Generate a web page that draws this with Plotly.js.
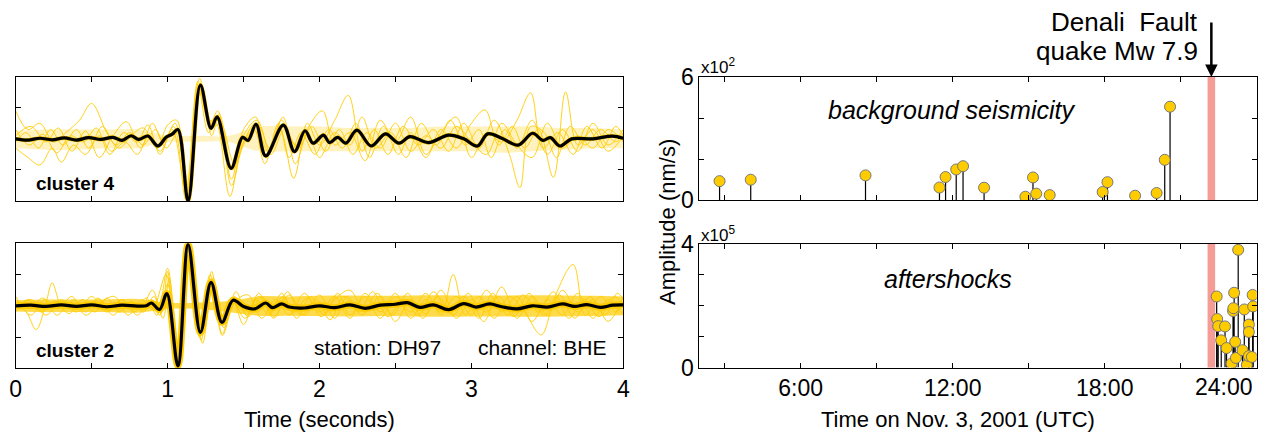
<!DOCTYPE html>
<html><head><meta charset="utf-8">
<script src="https://cdn.plot.ly/plotly-3.0.1.min.js"></script>
<style>html,body{margin:0;padding:0;background:#fff}#chart{width:1266px;height:432px}</style>
</head><body><div id="chart"></div>
<script>
// ---------- Left panels: waveforms (time in s, amplitude normalised) ----------
const c4MeanT = [0,0.08,0.16,0.24,0.32,0.4,0.48,0.56,0.64,0.7,0.76,0.81,0.87,0.936,0.99,1.03,1.068,1.135,1.216,1.286,1.326,1.418,1.493,1.53,1.582,1.646,1.762,1.835,1.905,1.958,2.026,2.066,2.12,2.173,2.246,2.34,2.434,2.523,2.596,2.717,2.851,2.95,3.04,3.107,3.2,3.309,3.403,3.47,3.52,3.583,3.66,3.8,3.927,4.0];
const c4MeanV = [0,-0.04,0.02,-0.03,0.03,-0.04,0.04,-0.02,0.05,-0.05,0.1,-0.02,0.09,-0.23,0.05,0.15,0.3,-2.0,1.73,0.34,0.71,-0.95,0.05,-0.05,0.47,-0.55,0.44,-0.41,0.26,-0.14,0.12,-0.12,0.05,-0.14,0.28,-0.23,0.16,-0.14,0.07,-0.12,0.12,0.0,-0.23,0.16,0.02,-0.2,0.18,-0.05,0.04,-0.23,0.0,0.0,0.09,0.02];

const c2MeanT = [0,0.1,0.2,0.3,0.4,0.5,0.6,0.7,0.8,0.86,0.893,0.947,0.995,1.068,1.135,1.216,1.286,1.358,1.431,1.5,1.574,1.646,1.69,1.75,1.8,1.9,2.0,2.1,2.2,2.3,2.4,2.5,2.58,2.66,2.75,2.85,2.95,3.03,3.12,3.2,3.3,3.4,3.5,3.6,3.68,3.76,3.85,3.93,4.0];
const c2MeanV = [0,0.02,-0.02,0.03,-0.02,0.03,-0.03,0.02,-0.01,0.0,0.09,-0.12,0.39,-1.92,1.96,-0.85,0.75,-0.53,0.18,-0.02,-0.1,0.09,-0.06,0.06,-0.04,-0.07,0.0,-0.06,0.03,-0.08,0.02,0.05,0.1,-0.05,0.03,-0.12,0.07,-0.04,0.06,-0.03,-0.1,0.0,-0.04,0.06,-0.02,0.04,-0.05,0.02,0.03];

// dense yellow band (envelope of the individual events)
const bandT   = [0,0.2,0.4,0.6,0.8,1.0,1.2,1.4,1.6,1.8,2.0,2.2,2.4,2.6,2.8,3.0,3.2,3.4,3.6,3.8,4.0];
const c4BandUp = [0.25,0.3,0.3,0.3,0.3,0.1,0.1,0.1,0.4,0.4,0.4,0.35,0.35,0.35,0.4,0.4,0.4,0.4,0.35,0.35,0.3];
const c4BandLo = [-0.3,-0.35,-0.35,-0.3,-0.3,-0.1,-0.1,-0.1,-0.4,-0.4,-0.4,-0.4,-0.4,-0.4,-0.4,-0.4,-0.45,-0.4,-0.35,-0.3,-0.3];
const c2BandUp = [0.18,0.2,0.2,0.2,0.22,0.1,0.1,0.15,0.3,0.3,0.32,0.33,0.32,0.33,0.34,0.33,0.33,0.34,0.33,0.32,0.3];
const c2BandLo = [-0.18,-0.2,-0.2,-0.2,-0.22,-0.1,-0.1,-0.2,-0.32,-0.32,-0.33,-0.34,-0.33,-0.34,-0.35,-0.34,-0.34,-0.35,-0.34,-0.33,-0.3];

// individual events [t, v]
const c4EventA = [[0,0.9],[0.08,0.3],[0.16,0.5],[0.25,-0.1],[0.33,0.2],[0.42,0.6],[0.5,1.14],[0.6,0.2],[0.68,-0.3],[0.76,0.1],[0.84,0.35],[0.93,-0.3],[1.0,0.45],[1.06,0.6],[1.13,-1.9],[1.21,1.95],[1.28,0.5],[1.33,0.9],[1.42,-1.3],[1.5,0.3],[1.58,0.7],[1.65,-0.6],[1.74,0.3],[1.83,-1.27],[1.92,0.5],[2.0,-0.2],[2.1,0.6],[2.19,1.4],[2.28,-0.4],[2.36,0.3],[2.45,-0.5],[2.55,0.4],[2.65,-0.2],[2.75,0.3],[2.85,-0.4],[2.95,0.5],[3.05,-0.3],[3.15,0.6],[3.25,-0.5],[3.32,-1.57],[3.39,0.4],[3.48,0.2],[3.56,-0.6],[3.65,0.4],[3.75,-0.2],[3.85,0.3],[3.95,-0.1],[4.0,0.2]];
const c4EventB = [[0,-0.3],[0.08,-0.6],[0.16,-0.84],[0.24,-0.3],[0.3,-0.75],[0.38,-0.2],[0.46,-0.5],[0.55,0.1],[0.63,-0.4],[0.72,-0.1],[0.8,-0.5],[0.88,0.1],[0.95,-0.4],[1.04,0.4],[1.12,-1.95],[1.2,1.7],[1.27,0.2],[1.32,0.5],[1.41,-1.85],[1.49,-0.2],[1.57,0.3],[1.64,-0.8],[1.73,0.5],[1.8,-0.6],[1.88,0.2],[1.97,-0.5],[2.06,0.3],[2.15,-0.3],[2.24,0.5],[2.33,-0.6],[2.42,0.4],[2.52,-0.5],[2.6,0.2],[2.7,-0.6],[2.8,0.3],[2.9,-0.3],[3.0,0.5],[3.09,0.93],[3.18,-0.2],[3.27,0.4],[3.35,-0.3],[3.44,0.3],[3.54,-1.24],[3.62,1.51],[3.7,-0.2],[3.8,0.3],[3.9,-0.4],[4.0,0.1]];
const c4EventC = [[0,0.1],[0.1,0.4],[0.2,-0.1],[0.28,0.35],[0.37,-0.4],[0.46,0.25],[0.55,-0.6],[0.64,0.1],[0.73,0.55],[0.82,-0.3],[0.9,0.5],[0.97,-0.1],[1.05,0.5],[1.13,-1.7],[1.22,1.8],[1.29,0.1],[1.34,0.8],[1.43,-1.0],[1.51,0.2],[1.59,0.6],[1.67,-0.3],[1.76,0.7],[1.84,-0.8],[1.93,0.4],[2.02,0.9],[2.1,-0.2],[2.2,0.2],[2.3,-0.7],[2.4,0.6],[2.5,-0.1],[2.6,0.7],[2.7,-0.5],[2.8,0.2],[2.9,0.7],[3.0,-0.6],[3.1,0.2],[3.2,-0.1],[3.3,0.6],[3.39,1.48],[3.47,-0.3],[3.57,0.2],[3.67,-0.5],[3.76,0.4],[3.86,-0.3],[3.95,0.4],[4.0,0.1]];
const c4EventD = [[0,-0.1],[0.07,0.2],[0.15,-0.3],[0.23,0.3],[0.31,-0.2],[0.4,0.3],[0.48,-0.3],[0.57,0.4],[0.66,-0.2],[0.75,0.2],[0.84,-0.2],[0.92,0.3],[0.99,-0.3],[1.07,0.2],[1.14,-1.85],[1.22,1.6],[1.3,0.4],[1.35,0.5],[1.44,-0.8],[1.52,0.0],[1.6,0.4],[1.68,-0.5],[1.77,0.3],[1.86,-0.3],[1.95,0.4],[2.04,-0.4],[2.13,0.3],[2.22,-0.5],[2.31,0.2],[2.4,-0.3],[2.5,0.5],[2.6,-0.4],[2.7,0.1],[2.8,-0.3],[2.9,0.4],[3.0,-0.1],[3.1,-0.5],[3.2,0.5],[3.3,-0.2],[3.4,-0.6],[3.5,0.5],[3.6,-0.3],[3.7,0.1],[3.8,-0.3],[3.9,0.3],[4.0,-0.1]];
const c4EventE = [[0,0.3],[0.09,-0.2],[0.18,0.15],[0.27,-0.45],[0.36,0.1],[0.45,-0.1],[0.53,0.35],[0.62,-0.5],[0.71,0.2],[0.8,-0.1],[0.87,0.45],[0.95,-0.5],[1.03,0.3],[1.12,-1.6],[1.2,1.85],[1.27,0.6],[1.33,0.6],[1.42,-1.5],[1.5,-0.1],[1.58,0.5],[1.66,-0.4],[1.75,0.6],[1.84,-0.2],[1.92,0.2],[2.0,-0.6],[2.1,0.2],[2.2,-0.2],[2.28,0.7],[2.37,-0.3],[2.47,0.2],[2.57,-0.6],[2.67,0.5],[2.77,-0.2],[2.86,0.6],[2.96,-0.2],[3.05,0.3],[3.13,-0.6],[3.22,0.3],[3.3,-0.3],[3.4,0.6],[3.5,-0.5],[3.6,0.3],[3.7,-0.4],[3.8,0.5],[3.9,-0.2],[4.0,0.3]];

const c2EventA = [[0,0.1],[0.07,-0.2],[0.135,-0.76],[0.2,0.1],[0.24,0.73],[0.31,-0.1],[0.38,0.2],[0.46,-0.2],[0.54,0.25],[0.62,-0.15],[0.7,0.2],[0.78,-0.2],[0.86,0.25],[0.93,-0.3],[1.0,1.2],[1.07,-2.0],[1.14,1.9],[1.22,-1.1],[1.29,1.1],[1.36,-0.9],[1.44,0.3],[1.52,-0.3],[1.6,0.4],[1.68,-0.2],[1.76,0.3],[1.85,-0.4],[1.94,0.3],[2.03,-0.3],[2.12,0.4],[2.2,-0.3],[2.3,0.3],[2.4,-0.4],[2.5,0.3],[2.6,-0.2],[2.7,0.4],[2.8,-0.3],[2.88,1.0],[2.96,-0.3],[3.05,0.3],[3.15,-0.4],[3.25,0.3],[3.35,-0.2],[3.46,-0.93],[3.55,0.3],[3.67,1.32],[3.75,-0.3],[3.85,0.3],[3.95,-0.2],[4.0,0.1]];
const c2EventB = [[0,-0.2],[0.08,0.2],[0.17,-0.2],[0.26,0.15],[0.35,-0.25],[0.44,0.2],[0.52,-0.2],[0.6,0.25],[0.68,-0.2],[0.76,0.15],[0.84,-0.2],[0.91,0.3],[0.97,-0.4],[1.01,0.9],[1.08,-1.8],[1.15,1.8],[1.23,-1.2],[1.3,0.9],[1.37,-0.7],[1.45,0.45],[1.53,-0.35],[1.62,0.3],[1.7,-0.35],[1.8,0.35],[1.9,-0.3],[2.0,0.35],[2.1,-0.4],[2.18,0.3],[2.28,-0.3],[2.38,0.4],[2.48,-0.3],[2.58,0.4],[2.68,-0.4],[2.78,0.3],[2.88,-0.3],[2.98,0.4],[3.08,-0.5],[3.18,0.3],[3.28,-0.35],[3.38,0.4],[3.48,-0.3],[3.58,0.35],[3.68,-0.4],[3.78,0.3],[3.88,-0.3],[3.96,0.4],[4.0,0.2]];
const c2EventC = [[0,0.2],[0.09,-0.1],[0.18,0.25],[0.27,-0.3],[0.36,0.1],[0.45,-0.1],[0.55,0.2],[0.64,-0.3],[0.73,0.1],[0.82,-0.1],[0.9,0.5],[0.96,-0.2],[1.0,1.1],[1.06,-1.9],[1.13,2.0],[1.21,-0.7],[1.28,1.0],[1.35,-0.5],[1.43,0.15],[1.5,-0.6],[1.58,0.2],[1.67,-0.3],[1.75,0.4],[1.83,-0.2],[1.92,0.25],[2.01,-0.35],[2.1,0.2],[2.2,0.5],[2.3,-0.2],[2.4,0.3],[2.5,-0.5],[2.6,0.2],[2.7,-0.25],[2.8,0.5],[2.9,-0.4],[3.0,0.2],[3.1,-0.2],[3.2,0.6],[3.3,-0.4],[3.4,0.3],[3.5,-0.3],[3.6,0.5],[3.7,-0.2],[3.8,0.2],[3.9,-0.5],[4.0,0.3]];
const c2EventD = [[0,-0.1],[0.1,0.2],[0.2,-0.3],[0.3,0.2],[0.4,-0.2],[0.5,0.3],[0.6,-0.2],[0.7,0.2],[0.8,-0.3],[0.88,0.1],[0.95,-0.3],[1.0,0.7],[1.07,-1.7],[1.14,1.7],[1.22,-0.8],[1.29,0.6],[1.36,-0.95],[1.44,0.1],[1.53,0.35],[1.62,-0.4],[1.71,0.2],[1.8,-0.3],[1.9,0.4],[2.0,-0.2],[2.1,0.3],[2.2,-0.4],[2.3,0.4],[2.4,-0.2],[2.5,0.4],[2.6,-0.4],[2.7,0.2],[2.8,-0.2],[2.9,0.3],[3.0,-0.3],[3.1,0.5],[3.2,-0.2],[3.3,0.3],[3.4,-0.5],[3.5,0.2],[3.6,-0.3],[3.7,0.4],[3.8,-0.4],[3.9,0.2],[4.0,-0.3]];
const c2EventE = [[0,0.3],[0.1,-0.3],[0.19,0.2],[0.28,-0.1],[0.37,0.3],[0.46,-0.3],[0.56,0.1],[0.65,0.3],[0.74,-0.3],[0.83,0.2],[0.9,-0.1],[0.99,1.0],[1.06,-1.85],[1.13,1.9],[1.21,-1.0],[1.28,0.85],[1.35,-0.6],[1.42,0.2],[1.51,-0.4],[1.6,0.3],[1.7,-0.4],[1.79,0.45],[1.88,-0.3],[1.98,0.2],[2.07,-0.45],[2.16,0.3],[2.26,-0.2],[2.35,0.45],[2.45,-0.35],[2.55,0.2],[2.65,-0.3],[2.75,0.45],[2.85,-0.2],[2.95,0.3],[3.05,-0.4],[3.14,0.4],[3.24,-0.3],[3.34,0.35],[3.44,-0.2],[3.54,0.45],[3.64,-0.4],[3.74,0.2],[3.84,-0.35],[3.94,0.3],[4.0,0.0]];

const secTicks = [0,0.5,1,1.5,2,2.5,3,3.5,4];
const secLabels = ['0','','1','','2','','3','','4'];

// ---------- Right panels: amplitudes (nm/s) vs. hour of Nov. 3 ----------
const bgHours = [2.8,4.03,8.56,11.48,11.72,12.14,12.41,13.24,14.87,15.17,15.3,15.83,17.92,18.11,19.2,20.05,20.37,20.58];
const bgAmp   = [92,99,120,61,112,149,165,60,16,110,31,24,39,87,21,34,196,455];
const asHours = [22.42,22.44,22.48,22.6,22.75,22.81,23.01,23.07,23.08,23.11,23.15,23.18,23.27,23.44,23.51,23.61,23.69,23.69,23.69,23.81,23.84,23.86];
const asAmp   = [230000,157000,134000,88000,133000,63000,13000,183000,192000,242000,83000,31000,381000,56000,188000,8000,139000,115000,37000,34000,235000,198000];
const quakeStart = 22.06, quakeEnd = 22.36;
const hourTicks  = [3,6,9,12,15,18,21,24];
const hourLabels = ['','6:00','','12:00','','18:00','',''];

// ---------- build ----------
const F = 'Liberation Sans, Arial, Helvetica, sans-serif';
const YEL = '#FFCC00';
const W = 1266, H = 432;
const px = v => v / W, py = v => 1 - v / H;

function evTrace(ev, xa, ya){
  return {x: ev.map(p=>p[0]), y: ev.map(p=>p[1]), xaxis: xa, yaxis: ya, mode:'lines',
    line:{color:YEL, width:0.9, shape:'spline'}, hoverinfo:'skip', showlegend:false};
}
function bandTraces(up, lo, xa, ya, col){
  return [
    {x: bandT, y: lo, xaxis:xa, yaxis:ya, mode:'lines', line:{width:0, shape:'spline'}, hoverinfo:'skip', showlegend:false},
    {x: bandT, y: up, xaxis:xa, yaxis:ya, mode:'lines', line:{width:0, shape:'spline'}, fill:'tonexty', fillcolor:col, hoverinfo:'skip', showlegend:false}
  ];
}
function meanTraces(t, v, xa, ya, sleeve){
  return [
    {x:t, y:v, xaxis:xa, yaxis:ya, mode:'lines', line:{color:YEL, width:sleeve, shape:'spline'}, hoverinfo:'skip', showlegend:false},
    {x:t, y:v, xaxis:xa, yaxis:ya, mode:'lines', line:{color:'#000', width:3.2, shape:'spline'}, showlegend:false}
  ];
}
function stems(h, a, xa, ya){
  const xs=[], ys=[];
  h.forEach((v,i)=>{ xs.push(v,v,null); ys.push(0,a[i],null); });
  return [
    {x:xs, y:ys, xaxis:xa, yaxis:ya, mode:'lines', line:{color:'#000', width:1.2}, hoverinfo:'skip', showlegend:false},
    {x:h, y:a, xaxis:xa, yaxis:ya, mode:'markers', marker:{size:11, color:YEL, line:{color:'#777', width:1}}, showlegend:false}
  ];
}

const data = [].concat(
  bandTraces(c4BandUp, c4BandLo, 'x', 'y', 'rgba(255,204,0,0.25)'),
  [c4EventA, c4EventB, c4EventC, c4EventD, c4EventE].map(e=>evTrace(e,'x','y')),
  meanTraces(c4MeanT, c4MeanV, 'x', 'y', 4),
  bandTraces(c2BandUp, c2BandLo, 'x2', 'y2', 'rgba(255,204,0,0.7)'),
  [c2EventA, c2EventB, c2EventC, c2EventD, c2EventE].map(e=>evTrace(e,'x2','y2')),
  meanTraces(c2MeanT, c2MeanV, 'x2', 'y2', 7),
  stems(bgHours, bgAmp, 'x3', 'y3'),
  stems(asHours, asAmp, 'x4', 'y4')
);

function ax(extra){
  return Object.assign({showline:true, linecolor:'#000', linewidth:1, mirror:'allticks', ticks:'inside',
    ticklen:5, tickcolor:'#000', tickwidth:1, showgrid:false, zeroline:false, fixedrange:true,
    tickfont:{family:F, size:23, color:'#000'}}, extra);
}
const LX = [15.7/W, 623.3/W], RX = [699.3/W, 1256.7/W];

const layout = {
  width:W, height:H, margin:{l:0,r:0,t:0,b:0}, paper_bgcolor:'#fff', plot_bgcolor:'#fff',
  showlegend:false, font:{family:F, color:'#000'},
  xaxis:  ax({domain:LX, anchor:'y',  range:[0,4], tickvals:secTicks, showticklabels:false}),
  yaxis:  ax({domain:[py(201), py(76.7)], anchor:'x', range:[-2,2], tickvals:[-1,0,1], showticklabels:false}),
  xaxis2: ax({domain:LX, anchor:'y2', range:[0,4], tickvals:secTicks, ticktext:secLabels}),
  yaxis2: ax({domain:[py(368.3), py(243.3)], anchor:'x2', range:[-2,2], tickvals:[-1,0,1], showticklabels:false}),
  xaxis3: ax({domain:RX, anchor:'y3', range:[2,24], tickvals:hourTicks, showticklabels:false}),
  yaxis3: ax({domain:[py(200), py(77)], anchor:'x3', range:[0,600], tickvals:[0,200,400,600], ticktext:['0','','','6']}),
  xaxis4: ax({domain:RX, anchor:'y4', range:[2,24], tickvals:hourTicks, ticktext:hourLabels}),
  yaxis4: ax({domain:[py(367.5), py(244)], anchor:'x4', range:[0,400000], tickvals:[0,100000,200000,300000,400000], ticktext:['0','','','','4']}),
  shapes: [
    {type:'rect', xref:'x3', yref:'y3 domain', x0:quakeStart, x1:quakeEnd, y0:0, y1:1, fillcolor:'#F59C97', line:{width:0}, layer:'below'},
    {type:'rect', xref:'x4', yref:'y4 domain', x0:quakeStart, x1:quakeEnd, y0:0, y1:1, fillcolor:'#F59C97', line:{width:0}, layer:'below'}
  ],
  annotations: [
    {xref:'paper', yref:'paper', x:px(34), y:py(183), xanchor:'left', yanchor:'middle', showarrow:false, text:'<b>cluster 4</b>', font:{size:19}},
    {xref:'paper', yref:'paper', x:px(34), y:py(350), xanchor:'left', yanchor:'middle', showarrow:false, text:'<b>cluster 2</b>', font:{size:19}},
    {xref:'paper', yref:'paper', x:px(312), y:py(347), xanchor:'left', yanchor:'middle', showarrow:false, text:'station: DH97', font:{size:21}},
    {xref:'paper', yref:'paper', x:px(608), y:py(347), xanchor:'right', yanchor:'middle', showarrow:false, text:'channel: BHE', font:{size:21}},
    {xref:'paper', yref:'paper', x:px(319), y:py(419), xanchor:'center', yanchor:'middle', showarrow:false, text:'Time (seconds)', font:{size:22}},
    {xref:'paper', yref:'paper', x:px(958), y:py(419), xanchor:'center', yanchor:'middle', showarrow:false, text:'Time on Nov. 3, 2001 (UTC)', font:{size:22}},
    {xref:'paper', yref:'paper', x:px(1255), y:py(387), xanchor:'right', yanchor:'middle', showarrow:false, text:'24:00', font:{size:23}},
    {xref:'paper', yref:'paper', x:px(668), y:py(222), xanchor:'center', yanchor:'middle', showarrow:false, textangle:-90, text:'Amplitude (nm/s)', font:{size:22}},
    {xref:'paper', yref:'paper', x:px(951), y:py(110), xanchor:'center', yanchor:'middle', showarrow:false, text:'<i>background seismicity</i>', font:{size:25}},
    {xref:'paper', yref:'paper', x:px(948), y:py(279), xanchor:'center', yanchor:'middle', showarrow:false, text:'<i>aftershocks</i>', font:{size:25}},
    {xref:'paper', yref:'paper', x:px(699), y:py(66), xanchor:'left', yanchor:'middle', showarrow:false, text:'x10<sup>2</sup>', font:{size:17}},
    {xref:'paper', yref:'paper', x:px(699), y:py(234), xanchor:'left', yanchor:'middle', showarrow:false, text:'x10<sup>5</sup>', font:{size:17}},
    {xref:'paper', yref:'paper', x:px(1200), y:py(22), xanchor:'right', yanchor:'middle', showarrow:false, text:'Denali\u00a0 Fault', font:{size:26}},
    {xref:'paper', yref:'paper', x:px(1200), y:py(51), xanchor:'right', yanchor:'middle', showarrow:false, text:'quake Mw 7.9', font:{size:26}},
    {xref:'x3', yref:'y3', x:(quakeStart+quakeEnd)/2, y:600, ax:0, ay:-56, axref:'pixel', ayref:'pixel', text:'', showarrow:true, arrowhead:2, arrowsize:1, arrowwidth:2.5, arrowcolor:'#000'}
  ]
};

Plotly.newPlot('chart', data, layout, {staticPlot:true, displayModeBar:false});
</script></body></html>
